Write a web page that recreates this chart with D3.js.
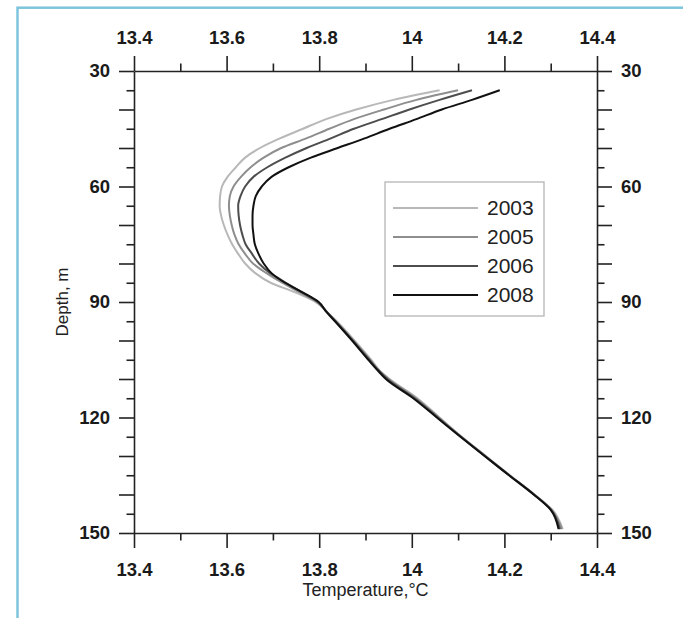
<!DOCTYPE html>
<html>
<head>
<meta charset="utf-8">
<script src="https://cdn.jsdelivr.net/npm/d3@7"></script>
<style>
    body { margin: 0; background: #fff; }
    svg { display: block; font-family: "Liberation Sans", Arial, sans-serif; }
</style>
</head>
<body>
<div id="chart"></div>
<script>
// depth levels (m) shared by all profiles
const depths = [35, 37.5, 40, 42.5, 45, 47.5, 50, 52.5, 55, 57.5, 60, 62.5, 65, 67.5, 70, 72.5, 75, 77.5,
    80, 82.5, 85, 87.5, 90, 92.5, 95, 100, 105, 108, 110, 115, 120, 125, 130, 135, 140, 144, 149];

const years = ["2003", "2005", "2006", "2008"];

// temperature (°C), one value per depth
const temp2003 = [14.06, 13.96, 13.88, 13.815, 13.765, 13.715, 13.672, 13.64, 13.62, 13.602, 13.59, 13.586, 13.585,
    13.588, 13.594, 13.602, 13.612, 13.625, 13.64, 13.662, 13.695, 13.748, 13.792,
    13.816, 13.838, 13.876, 13.912, 13.932, 13.952, 14.012, 14.06, 14.108, 14.16, 14.212, 14.265, 14.304, 14.326];
const temp2005 = [14.1, 14.01, 13.94, 13.875, 13.822, 13.772, 13.718, 13.68, 13.652, 13.631, 13.615, 13.607, 13.605,
    13.607, 13.611, 13.617, 13.626, 13.64, 13.657, 13.686, 13.72, 13.758, 13.795,
    13.816, 13.836, 13.874, 13.91, 13.931, 13.95, 14.009, 14.058, 14.107, 14.159, 14.211, 14.264, 14.302, 14.324];
const temp2006 = [14.13, 14.06, 13.995, 13.935, 13.875, 13.825, 13.773, 13.727, 13.688, 13.658, 13.64, 13.63, 13.625,
    13.626, 13.629, 13.634, 13.641, 13.655, 13.67, 13.694, 13.728, 13.763, 13.797,
    13.816, 13.835, 13.872, 13.908, 13.93, 13.947, 14.006, 14.056, 14.106, 14.158, 14.21, 14.264, 14.301, 14.32];
const temp2008 = [14.19, 14.13, 14.065, 14.01, 13.952, 13.898, 13.84, 13.782, 13.734, 13.697, 13.676, 13.663, 13.658,
    13.656, 13.656, 13.658, 13.661, 13.669, 13.68, 13.697, 13.726, 13.764, 13.799,
    13.815, 13.834, 13.871, 13.906, 13.928, 13.944, 14.003, 14.054, 14.105, 14.157, 14.21, 14.263, 14.3, 14.317];

const xTickValues = [13.4, 13.5, 13.6, 13.7, 13.8, 13.9, 14, 14.1, 14.2, 14.3, 14.4];
const xTickLabels = ["13.4", "13.6", "13.8", "14", "14.2", "14.4"];
const yTickValues = [30, 35, 40, 45, 50, 55, 60, 65, 70, 75, 80, 85, 90, 95, 100, 105, 110, 115, 120, 125, 130, 135, 140, 145, 150];
const yTickLabels = ["30", "60", "90", "120", "150"];

const lineColors = ["#b8b8b8", "#8e8e8e", "#4d4d4d", "#111111"];

const width = 683, height = 618;
const margin = {top: 71, right: 86, bottom: 85, left: 134};

const svg = d3.select("#chart").append("svg")
    .attr("width", width)
    .attr("height", height);

// light blue frame round the figure
svg.append("rect")
    .attr("x", 17.5).attr("y", 7.7)
    .attr("width", 720).attr("height", 700)
    .attr("fill", "none")
    .attr("stroke", "#7dc5dc")
    .attr("stroke-width", 2.5);

const x = d3.scaleLinear().domain([13.4, 14.4]).range([margin.left, width - margin.right]);
const y = d3.scaleLinear().domain([30, 150]).range([margin.top, height - margin.bottom]);

const xFmt = (d, i) => i % 2 ? "" : xTickLabels[i / 2];
const yFmt = (d, i) => i % 6 ? "" : yTickLabels[i / 6];

function styleAxis(g, dir) {
    g.select(".domain").attr("stroke", "#222").attr("stroke-width", 1.6);
    g.selectAll(".tick line")
        .attr("stroke", "#222").attr("stroke-width", 1.6)
        .attr(dir.attr, (d, i) => dir.sign * (i % 2 ? 7.5 : 15));
    g.selectAll(".tick text")
        .attr("fill", "#1a1a1a")
        .style("font-size", "18.5px")
        .style("font-weight", "bold")
        .style("font-family", "'Liberation Sans', Arial, sans-serif");
}

svg.append("g")
    .attr("transform", `translate(0,${y(30)})`)
    .call(d3.axisTop(x).tickValues(xTickValues).tickFormat(xFmt).tickSize(15).tickSizeOuter(0).tickPadding(12))
    .call(g => styleAxis(g, {attr: "y2", sign: -1}));

svg.append("g")
    .attr("transform", `translate(0,${y(150)})`)
    .call(d3.axisBottom(x).tickValues(xTickValues).tickFormat(xFmt).tickSize(15).tickSizeOuter(0).tickPadding(15))
    .call(g => styleAxis(g, {attr: "y2", sign: 1}));

svg.append("g")
    .attr("transform", `translate(${x(13.4)},0)`)
    .call(d3.axisLeft(y).tickValues(yTickValues).tickFormat(yFmt).tickSize(15).tickSizeOuter(0).tickPadding(9))
    .call(g => styleAxis(g, {attr: "x2", sign: -1}));

svg.append("g")
    .attr("transform", `translate(${x(14.4)},0)`)
    .call(d3.axisRight(y).tickValues(yTickValues).tickFormat(yFmt).tickSize(15).tickSizeOuter(0).tickPadding(9))
    .call(g => styleAxis(g, {attr: "x2", sign: 1}));

// axis titles
svg.append("text")
    .attr("x", (x(13.4) + x(14.4)) / 2)
    .attr("y", 596)
    .attr("text-anchor", "middle")
    .attr("fill", "#222")
    .style("font-size", "18px")
    .text("Temperature,°C");

svg.append("text")
    .attr("transform", `translate(68,${(y(30) + y(150)) / 2}) rotate(-90)`)
    .attr("text-anchor", "middle")
    .attr("fill", "#222")
    .style("font-size", "17px")
    .text("Depth, m");

// profiles
const series = [temp2003, temp2005, temp2006, temp2008];
const line = d3.line()
    .x(d => x(d.t))
    .y(d => y(d.depth))
    .curve(d3.curveMonotoneY);

series.forEach((temps, k) => {
    svg.append("path")
        .datum(temps.map((t, i) => ({t: t, depth: depths[i]})))
        .attr("fill", "none")
        .attr("stroke", lineColors[k])
        .attr("stroke-width", 2)
        .attr("stroke-linejoin", "round")
        .attr("d", line);
});

// legend
const legend = svg.append("g").attr("transform", "translate(385,182)");
legend.append("rect")
    .attr("width", 159).attr("height", 134)
    .attr("fill", "#fff")
    .attr("stroke", "#b5b5b5")
    .attr("stroke-width", 1.3);

years.forEach((yr, k) => {
    const ly = 26 + k * 29;
    legend.append("line")
        .attr("x1", 8).attr("x2", 93)
        .attr("y1", ly).attr("y2", ly)
        .attr("stroke", lineColors[k])
        .attr("stroke-width", 2);
    legend.append("text")
        .attr("x", 102).attr("y", ly)
        .attr("dy", "0.35em")
        .attr("fill", "#222")
        .style("font-size", "21px")
        .text(yr);
});
</script>
</body>
</html>
